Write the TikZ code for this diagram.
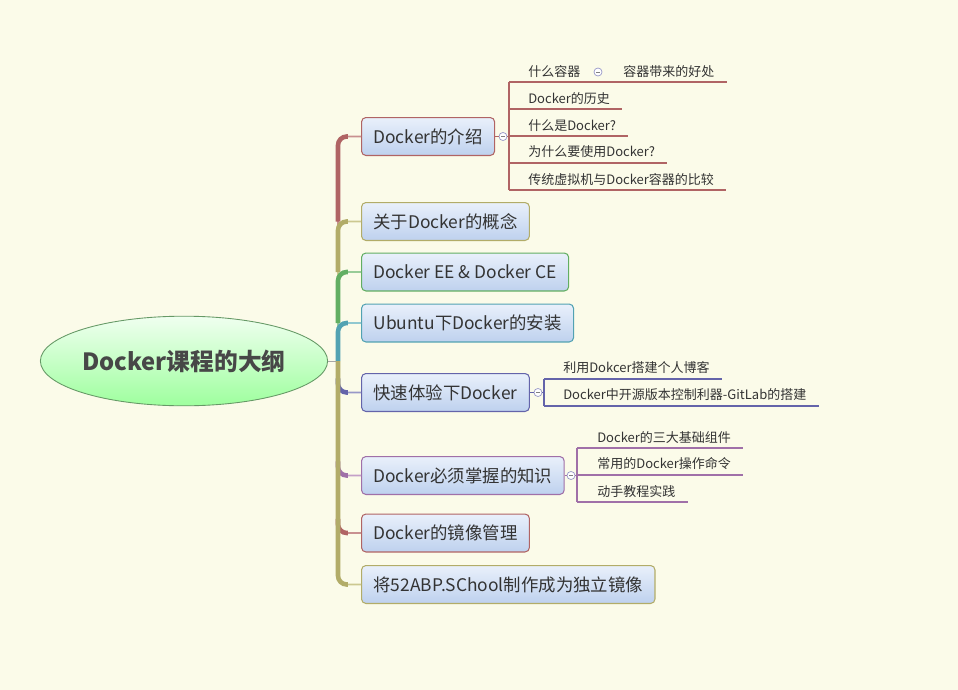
\documentclass[tikz,border=0pt]{standalone}
\usepackage{fontspec}
\setmainfont{Noto Sans CJK SC}
\usetikzlibrary{positioning,shapes.geometric}

\definecolor{paper}{HTML}{FBFBE9}
\definecolor{ink}{HTML}{333333}
\definecolor{boxtop}{HTML}{E9F0FB}
\definecolor{boxbot}{HTML}{BED1EE}
\definecolor{redb}{HTML}{B06464}
\definecolor{redl}{HTML}{C89090}
\definecolor{oliveb}{HTML}{B2AC68}
\definecolor{olivel}{HTML}{CCC890}
\definecolor{greenb}{HTML}{62AE62}
\definecolor{greenl}{HTML}{98CC98}
\definecolor{tealb}{HTML}{52A2B2}
\definecolor{teall}{HTML}{90C8D0}
\definecolor{blueb}{HTML}{6464AA}
\definecolor{bluel}{HTML}{9898C8}
\definecolor{purpb}{HTML}{A070A8}
\definecolor{purpl}{HTML}{C4A0C8}

\begin{document}
\begin{tikzpicture}[x=0.02cm,y=-0.02cm,
    topic/.style={draw, rounded corners=2.5pt, top color=boxtop, bottom color=boxbot, line width=0.6pt,
      minimum height=21.6pt, inner xsep=6.8pt, anchor=west, text=ink, font=\fontsize{9.9}{11}\selectfont},
    leaf/.style={anchor=south west, inner xsep=6.8pt, inner ysep=2.6pt, text=ink, font=\fontsize{7.4}{9}\selectfont},
    fold/.style={circle, draw=bluel, fill=white, line width=0.4pt, inner sep=0pt, minimum size=4.6pt,
      path picture={\draw[gray, line width=0.4pt] ([xshift=1.2pt]path picture bounding box.west) -- ([xshift=-1.2pt]path picture bounding box.east);}},
    trunk/.style={line width=2.6pt, rounded corners=5pt},
    twig/.style={line width=1.1pt, rounded corners=5pt},
    subline/.style={line width=0.6pt}
  ]
  \fill[paper] (0,0) rectangle (958,690);
  \useasboundingbox (0,0) rectangle (958,690);

  % central topic
  \node[ellipse, draw=gray!80!green, line width=0.5pt, top color=green!6, bottom color=green!38!white,
    minimum width=163pt, minimum height=51pt, inner sep=0pt, text=ink!90,
    font=\bfseries\fontsize{13.5}{16}\selectfont] (outline) at (184,361) {Docker课程的大纲};
  \coordinate (root) at (338,361);

  % main topics
  \node[topic, draw=redb] (intro) at (361,136.5) {Docker的介绍};
  \node[topic, draw=oliveb] (concept) at (361,221.5) {关于Docker的概念};
  \node[topic, draw=greenb] (edition) at (361,272) {Docker EE \& Docker CE};
  \node[topic, draw=tealb] (install) at (361,323) {Ubuntu下Docker的安装};
  \node[topic, draw=blueb] (quick) at (361,392.5) {快速体验下Docker};
  \node[topic, draw=purpb] (basics) at (361,475.5) {Docker必须掌握的知识};
  \node[topic, draw=redb] (image) at (361,533) {Docker的镜像管理};
  \node[topic, draw=oliveb] (school) at (361,584.5) {将52ABP.SChool制作成为独立镜像};

  % branches
  \draw[gray!70, line width=0.5pt] (outline.east) -- (root);
  \draw[twig, redl] (root) |- (intro.west);
  \draw[twig, olivel] (root) |- (concept.west);
  \draw[twig, greenl] (root) |- (edition.west);
  \draw[twig, teall] (root) |- (install.west);
  \draw[twig, bluel] (root) |- (quick.west);
  \draw[twig, purpl] (root) |- (basics.west);
  \draw[twig, redl] (root) |- (image.west);
  \draw[twig, olivel] (root) |- (school.west);

  \draw[trunk, redb] (root |- concept.west) |- ([xshift=-7.5pt]intro.west);
  \draw[trunk, oliveb] (root |- edition.west) |- ([xshift=-7.5pt]concept.west);
  \draw[trunk, greenb] (root |- install.west) |- ([xshift=-7.5pt]edition.west);
  \draw[trunk, tealb] (root) |- ([xshift=-7.5pt]install.west);
  \draw[trunk, blueb] ([yshift=8pt]root |- quick.west) |- ([xshift=-7.5pt]quick.west);
  \draw[trunk, purpb] ([yshift=8pt]root |- basics.west) |- ([xshift=-7.5pt]basics.west);
  \draw[trunk, redb] ([yshift=8pt]root |- image.west) |- ([xshift=-7.5pt]image.west);
  \draw[trunk, oliveb] (root) |- ([xshift=-7.5pt]school.west);

  % Docker的介绍
  \node[fold] (f1) at (503,136.5) {};
  \coordinate (b1) at (509,136.5);
  \node[leaf] (w1) at (516,82) {什么容器};
  \node[fold] (f1a) at (598,72) {};
  \node[leaf] (w1a) at (611,82) {容器带来的好处};
  \node[leaf] (w2) at (516,109) {Docker的历史};
  \node[leaf] (w3) at (516,136) {什么是Docker?};
  \node[leaf] (w4) at (516,163) {为什么要使用Docker?};
  \node[leaf] (w5) at (516,190) {传统虚拟机与Docker容器的比较};
  \draw[subline, redb] (intro.east) -- (f1) -- (b1);
  \draw[subline, redb] (b1 |- w1.south) -- (b1 |- w5.south);
  \draw[subline, redb] (b1 |- w1.south) -- (w1a.south east);
  \foreach \w in {w2,w3,w4,w5}
    \draw[subline, redb] (b1 |- \w.south) -- (\w.south east);

  % 快速体验下Docker
  \node[fold] (f5) at (538,392.5) {};
  \coordinate (b5) at (544,392.5);
  \node[leaf] (q1) at (551,379) {利用Dokcer搭建个人博客};
  \node[leaf] (q2) at (551,406) {Docker中开源版本控制利器-GitLab的搭建};
  \draw[subline, blueb] (quick.east) -- (f5) -- (b5);
  \draw[subline, blueb] (b5 |- q1.south) -- (b5 |- q2.south);
  \foreach \w in {q1,q2}
    \draw[subline, blueb] (b5 |- \w.south) -- (\w.south east);

  % Docker必须掌握的知识
  \node[fold] (f6) at (571,475.5) {};
  \coordinate (b6) at (577,475.5);
  \node[leaf] (k1) at (585,448) {Docker的三大基础组件};
  \node[leaf] (k2) at (585,475) {常用的Docker操作命令};
  \node[leaf] (k3) at (585,502) {动手教程实践};
  \draw[subline, purpb] (basics.east) -- (f6) -- (b6);
  \draw[subline, purpb] (b6 |- k1.south) -- (b6 |- k3.south);
  \foreach \w in {k1,k2,k3}
    \draw[subline, purpb] (b6 |- \w.south) -- (\w.south east);
\end{tikzpicture}
\end{document}
